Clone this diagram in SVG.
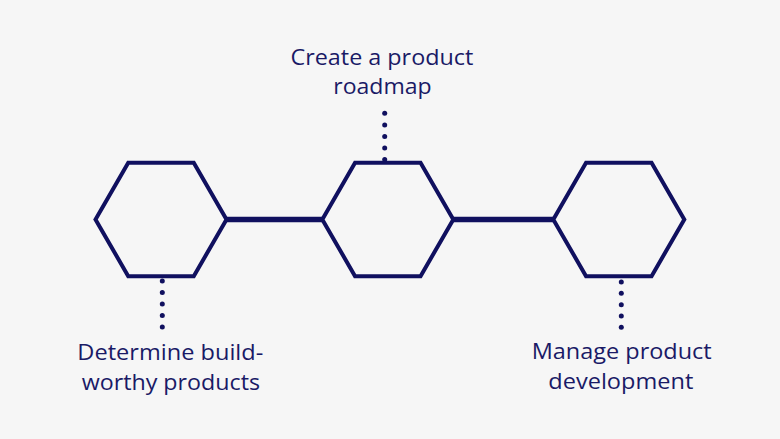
<svg xmlns="http://www.w3.org/2000/svg" width="780" height="439" viewBox="0 0 780 439">
<style>
.hex{fill:none;stroke:#10105f;stroke-width:4;stroke-linejoin:miter}
.conn{stroke:#10105f;stroke-width:5.5;fill:none}
.dot{fill:#10105f}
.lbl{font-family:"Open Sans","DejaVu Sans",sans-serif;font-size:21px;fill:#1a1a66}
</style>
<rect width="780" height="439" fill="#f6f6f6"/>
<g id="connectors">
<line class="conn" x1="226.5" y1="219.5" x2="322.3" y2="219.5"/>
<line class="conn" x1="453.3" y1="219.5" x2="553.3" y2="219.5"/>
</g>
<g id="node1">
<polygon class="hex" points="95.5,219.5 128.25,162.8 193.75,162.8 226.5,219.5 193.75,276.2 128.25,276.2"/>
<g class="dot"><circle cx="162.3" cy="281" r="2.5"/><circle cx="162.3" cy="292.5" r="2.5"/><circle cx="162.3" cy="304" r="2.5"/><circle cx="162.3" cy="315.5" r="2.5"/><circle cx="162.3" cy="327" r="2.5"/></g>
<text class="lbl" x="77.3" y="360" textLength="186" lengthAdjust="spacingAndGlyphs">Determine build-</text>
<text class="lbl" x="81.7" y="390" textLength="178.3" lengthAdjust="spacingAndGlyphs">worthy products</text>
</g>
<g id="node2">
<polygon class="hex" points="322.3,219.5 355.05,162.8 420.55,162.8 453.3,219.5 420.55,276.2 355.05,276.2"/>
<g class="dot"><circle cx="384.7" cy="113.3" r="2.5"/><circle cx="384.7" cy="124.9" r="2.5"/><circle cx="384.7" cy="136.5" r="2.5"/><circle cx="384.7" cy="148" r="2.5"/><circle cx="384.7" cy="159.6" r="2.5"/></g>
<text class="lbl" x="290.5" y="64.5" textLength="182.8" lengthAdjust="spacingAndGlyphs">Create a product</text>
<text class="lbl" x="333.3" y="94" textLength="98.4" lengthAdjust="spacingAndGlyphs">roadmap</text>
</g>
<g id="node3">
<polygon class="hex" points="553.3,219.5 586.05,162.8 651.55,162.8 684.3,219.5 651.55,276.2 586.05,276.2"/>
<g class="dot"><circle cx="621.3" cy="282" r="2.5"/><circle cx="621.3" cy="293.3" r="2.5"/><circle cx="621.3" cy="304.7" r="2.5"/><circle cx="621.3" cy="316" r="2.5"/><circle cx="621.3" cy="327.3" r="2.5"/></g>
<text class="lbl" x="531.7" y="359" textLength="180" lengthAdjust="spacingAndGlyphs">Manage product</text>
<text class="lbl" x="548.3" y="389.3" textLength="145" lengthAdjust="spacingAndGlyphs">development</text>
</g>
</svg>
